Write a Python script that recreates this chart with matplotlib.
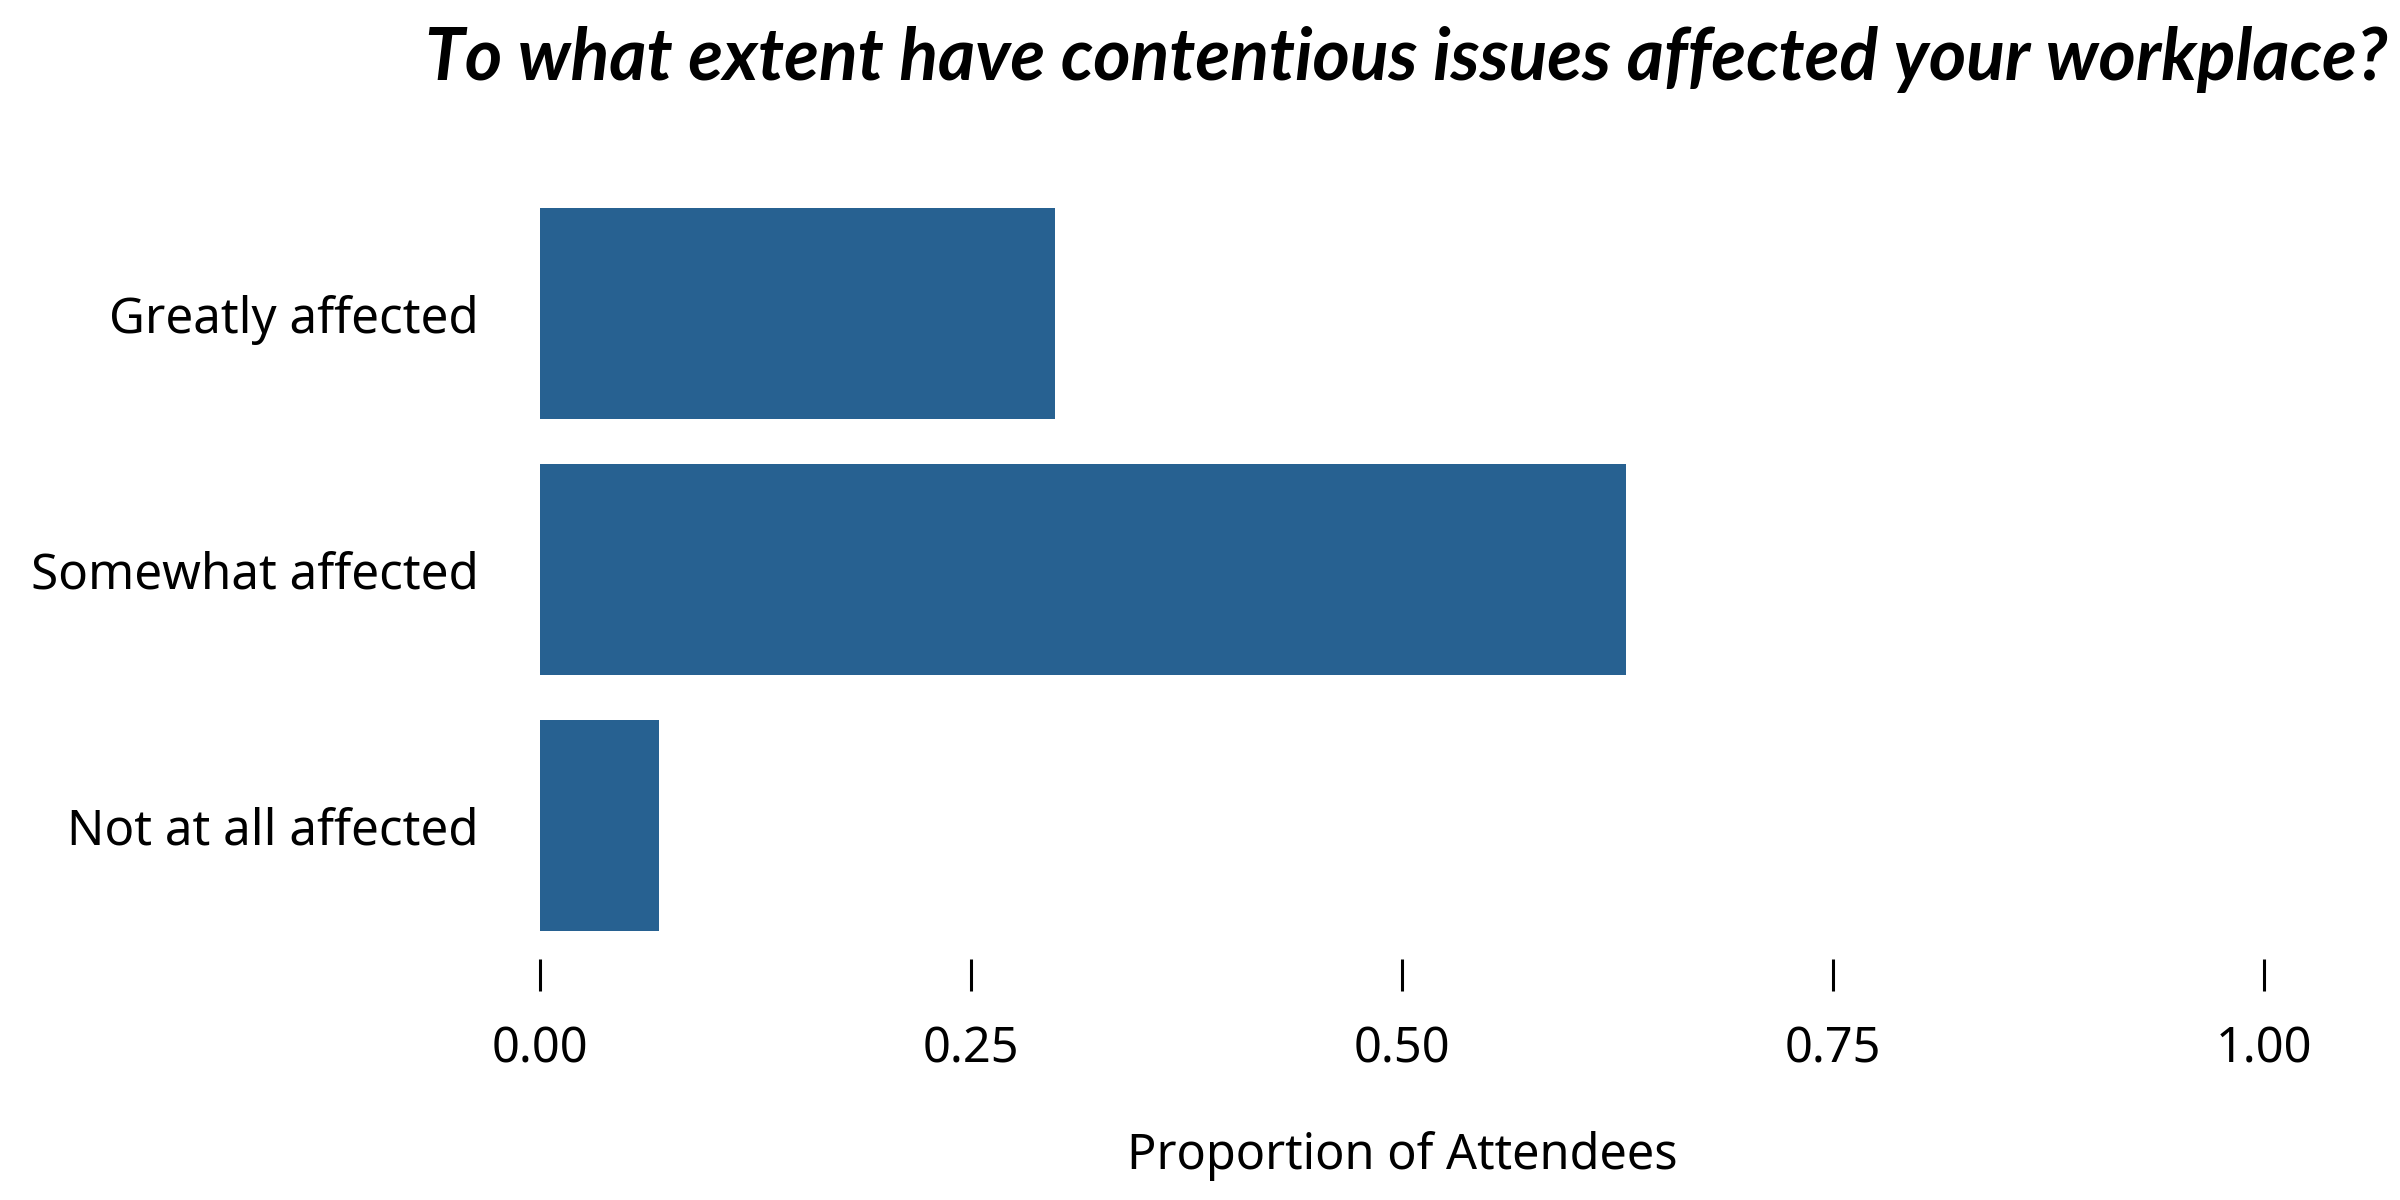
import matplotlib.pyplot as plt

categories = ['Not at all affected', 'Somewhat affected', 'Greatly affected']
proportions = [0.069, 0.630, 0.299]
xticks = [0.0, 0.25, 0.50, 0.75, 1.0]
xtick_labels = ['0.00', '0.25', '0.50', '0.75', '1.00']

plt.rcParams['font.family'] = ['Noto Sans', 'DejaVu Sans']

fig = plt.figure(figsize=(24, 12), dpi=100, facecolor='white')
ax = fig.add_axes([0.225, 1 - 931 / 1200, 0.9433 - 0.225, (931 - 208) / 1200])

ax.barh(range(len(categories)), proportions, height=0.825, color='#276191')
ax.set_xlim(0, 1)
ax.set_ylim(-0.4125, 2.4125)

for s in ax.spines.values():
    s.set_visible(False)
ax.spines['bottom'].set_position(('outward', 20))

ax.set_yticks(range(len(categories)))
ax.set_yticklabels(categories)
ax.set_xticks(xticks)
ax.set_xticklabels(xtick_labels)
ax.tick_params(axis='x', length=23, width=2.2, pad=24, color='black', labelsize=35)
ax.tick_params(axis='y', length=0, pad=44, labelsize=35.5)

fig.text(0.5842, 1 - 1156 / 1200, 'Proportion of Attendees', fontsize=35,
         ha='center', va='center')
fig.text(0.995, 1 - 80 / 1200,
         'To what extent have contentious issues affected your workplace?',
         fontsize=51.5, fontweight='bold', fontstyle='italic',
         family=['Lato', 'Open Sans', 'DejaVu Sans'],
         ha='right', va='baseline')

fig.savefig('out.png', dpi=100, facecolor='white')
